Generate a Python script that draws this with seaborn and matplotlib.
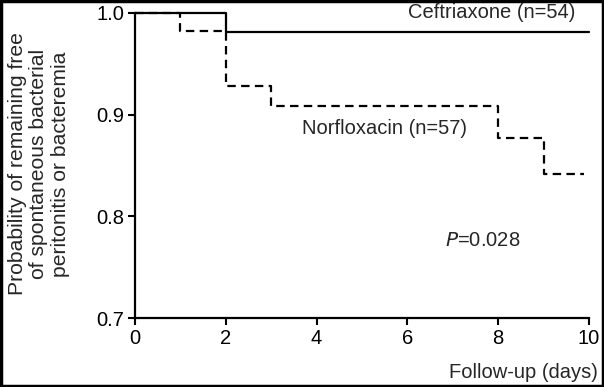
import matplotlib
matplotlib.use("Agg")
import matplotlib.pyplot as plt
import seaborn as sns
import pandas as pd
from matplotlib.patches import Rectangle

# Data (Kaplan-Meier step curves)
ceftriaxone_days = [0, 2, 10]
ceftriaxone_prob = [1.0, 0.981, 0.981]
norfloxacin_days = [0, 1, 2, 3, 8, 9, 9.9]
norfloxacin_prob = [1.0, 0.982, 0.928, 0.909, 0.877, 0.842, 0.842]
x_ticks = [0, 2, 4, 6, 8, 10]
y_ticks = [0.7, 0.8, 0.9, 1.0]
y_tick_labels = ["0.7", "0.8", "0.9", "1.0"]

sns.set_theme(style="ticks")
plt.rcParams['font.family'] = ['Liberation Sans', 'DejaVu Sans']

FS = 14.5

df_c = pd.DataFrame({"day": ceftriaxone_days, "prob": ceftriaxone_prob})
df_n = pd.DataFrame({"day": norfloxacin_days, "prob": norfloxacin_prob})

fig = plt.figure(figsize=(6.04, 3.87), dpi=100)
ax = fig.add_axes([135/604, 1-318/387, (589-135)/604, (318-13)/387])

sns.lineplot(data=df_n, x="day", y="prob", ax=ax, drawstyle="steps-post",
             color="black", linewidth=1.6, linestyle=(0, (3.8, 2.4)), clip_on=False)
sns.lineplot(data=df_c, x="day", y="prob", ax=ax, drawstyle="steps-post",
             color="black", linewidth=1.6, clip_on=False)

ax.set_xlim(0, 10)
ax.set_ylim(0.7, 1.0)
ax.set_xticks(x_ticks)
ax.set_yticks(y_ticks)
ax.set_yticklabels(y_tick_labels)
ax.tick_params(axis="both", direction="out", length=5, width=1.5, labelsize=FS,
               colors="black", pad=3)
for s in ["top", "right"]:
    ax.spines[s].set_visible(False)
for s in ["left", "bottom"]:
    ax.spines[s].set_linewidth(1.6)
    ax.spines[s].set_color("black")
ax.set_xlabel("")
ax.set_ylabel("")

fig.text(492/604, 1-13/387, "Ceftriaxone (n=54)", ha="center", va="center", fontsize=FS)
fig.text(385/604, 1-128/387, "Norfloxacin (n=57)", ha="center", va="center", fontsize=FS)
fig.text(445/604, 1-241/387, "$\\mathit{P}$=0.028", ha="left", va="center", fontsize=FS)
fig.text(598/604, 1-372/387, "Follow-up (days)", ha="right", va="center", fontsize=FS)
fig.text(39/604, 1-164/387,
         "Probability of remaining free\nof spontaneous bacterial\nperitonitis or bacteremia",
         rotation=90, ha="center", va="center", fontsize=15.2, linespacing=1.18,
         multialignment="center")

fig.patches.append(Rectangle((0.002, 0.003), 0.996, 0.994, transform=fig.transFigure,
                             fill=False, edgecolor="black", linewidth=2.5))

fig.savefig("out.png", dpi=100)
